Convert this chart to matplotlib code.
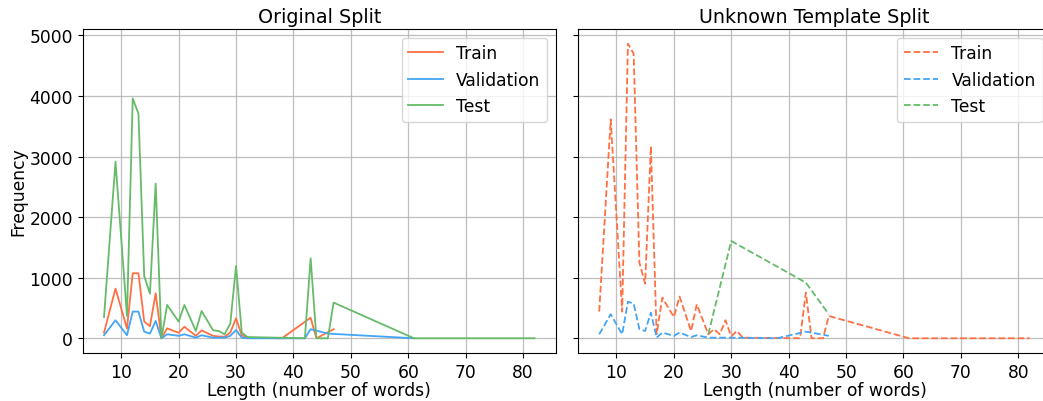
import matplotlib
matplotlib.use("Agg")
import matplotlib.pyplot as plt

# Original split
x_train_o = [7, 9, 11, 12, 13, 14, 15, 16, 17, 18, 20, 21, 23, 24, 26, 27, 28, 29, 30, 31, 32, 38, 43, 44, 47]
train_o = [94, 820, 160, 1073, 1073, 275, 200, 743, 0, 165, 90, 190, 40, 130, 40, 30, 25, 95, 330, 50, 10, 0, 340, 0, 150]

x_val_o = [7, 9, 11, 12, 13, 14, 15, 16, 17, 18, 20, 21, 23, 24, 26, 27, 28, 29, 30, 31, 32, 42, 43, 46, 61]
val_o = [50, 297, 50, 440, 440, 110, 77, 286, 0, 66, 40, 66, 10, 50, 10, 10, 10, 40, 137, 10, 0, 0, 150, 77, 0]

x_test_o = [7, 9, 11, 12, 13, 14, 15, 16, 17, 18, 20, 21, 23, 24, 26, 27, 28, 29, 30, 31, 32, 42, 43, 44, 46, 47, 61, 82]
test_o = [351, 2915, 368, 3960, 3708, 1028, 737, 2553, 0, 550, 275, 550, 120, 450, 132, 120, 66, 242, 1193, 94, 20, 0, 1320, 0, 0, 589, 0, 0]

# Unknown template split
x_train_u = [7, 9, 11, 12, 13, 14, 15, 16, 17, 18, 20, 21, 23, 24, 26, 27, 28, 29, 30, 31, 32, 42, 43, 44, 46, 47, 61, 82]
train_u = [440, 3614, 440, 4863, 4698, 1249, 903, 3173, 66, 671, 352, 688, 120, 561, 66, 149, 66, 297, 33, 120, 10, 0, 754, 0, 0, 368, 0, 0]

x_val_u = [7, 9, 11, 12, 13, 14, 15, 16, 17, 18, 20, 21, 23, 24, 26, 30, 38, 43, 47]
val_u = [66, 396, 66, 605, 572, 150, 120, 423, 10, 94, 40, 94, 20, 50, 10, 10, 0, 110, 40]

x_test_u = [26, 30, 43, 47]
test_u = [66, 1606, 919, 396]

titles = ["Original Split", "Unknown Template Split"]
labels = ["Train", "Validation", "Test"]
colors = ["#ff7043", "#42a5f5", "#66bb6a"]

plt.rcParams['font.size'] = 12.3

W, H = 1043, 402
fig, axes = plt.subplots(1, 2, figsize=(W / 100, H / 100), dpi=100, sharey=True)
aw = 473.5
axes[0].set_position([82.5 / W, 1 - 354 / H, aw / W, 324 / H])
axes[1].set_position([577.7 / W, 1 - 354 / H, aw / W, 324 / H])

series = [
    [(x_train_o, train_o), (x_val_o, val_o), (x_test_o, test_o)],
    [(x_train_u, train_u), (x_val_u, val_u), (x_test_u, test_u)],
]
styles = ["-", "--"]

for ax, title, ser, ls in zip(axes, titles, series, styles):
    for (xs, ys), lab, c in zip(ser, labels, colors):
        ax.plot(xs, ys, ls, color=c, label=lab, linewidth=1.3)
    ax.set_title(title, fontsize=13.8, pad=5)
    ax.set_xlabel("Length (number of words)", labelpad=0.5)
    ax.grid(True, color="#b0b0b0", linewidth=0.9, alpha=0.8)
    ax.legend(loc="upper right", fontsize=12.3)
    ax.set_xticks([10, 20, 30, 40, 50, 60, 70, 80])

axes[0].set_ylabel("Frequency", labelpad=1)
axes[0].set_yticks([0, 1000, 2000, 3000, 4000, 5000])

fig.savefig("out.png", dpi=100)
